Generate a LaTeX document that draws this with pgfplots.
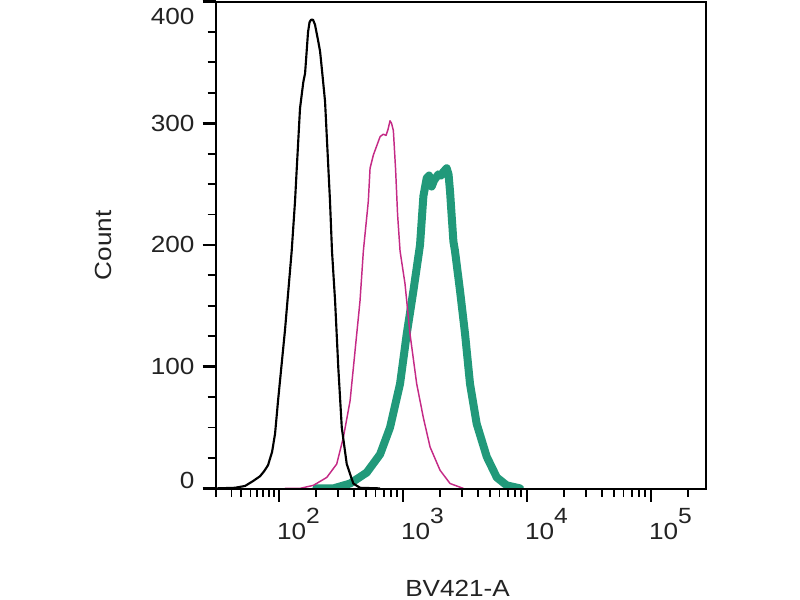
\documentclass[border=0pt]{standalone}
\usepackage{fontspec}
\setmainfont{Liberation Sans}[FakeStretch=1.12]
\usepackage{pgfplots}
\pgfplotsset{compat=1.18}
\definecolor{tealc}{RGB}{33,153,122}
\definecolor{pinkc}{RGB}{196,42,134}
\definecolor{txt}{RGB}{35,35,35}
\newcommand{\dec}[1]{10\raisebox{12pt}{\fontsize{16.5}{17}\selectfont #1}}
\newcommand{\lbl}{\fontsize{17.5}{21}\selectfont}
\begin{document}
\begin{tikzpicture}
\useasboundingbox (0,0) rectangle (600pt,450pt);
\begin{axis}[
  at={(161.8pt,83.25pt)}, anchor=south west,
  scale only axis, width=367.5pt, height=365.6pt,
  xmin=1.4895, xmax=5.441, ymin=-0.5, ymax=400,
  axis on top,
  axis line style={line width=1.5pt, black},
  tick align=outside, tick pos=left,
  xtick={2,3,4,5},
  xticklabels={\dec{2},\dec{3},\dec{4},\dec{5}},
  minor xtick={1.49,1.617,1.694,1.770,1.823,1.873,1.919,1.960,
    2.301,2.477,2.602,2.699,2.778,2.845,2.903,2.954,
    3.301,3.477,3.602,3.699,3.778,3.845,3.903,3.954,
    4.301,4.477,4.602,4.699,4.778,4.845,4.903,4.954,5.301},
  ytick={0,100,200,300,400},
  yticklabels={\raisebox{6pt}[\height][\depth]{0},100,200,300,\raisebox{-11.25pt}[\height][\depth]{400}},
  minor y tick num=3,
  major tick length=9.75pt, minor tick length=6pt,
  every major tick/.style={black, line width=2pt},
  every minor tick/.style={black, line width=1.4pt},
  ticklabel style={font=\lbl, text=txt, inner sep=0pt},
  xticklabel style={anchor=north west, xshift=-1.7pt, yshift=-4.5pt},
  yticklabel style={anchor=east, xshift=-6pt},
  xlabel={BV421-A}, ylabel={Count},
  xlabel style={at={(axis description cs:0.4935,-0.203)}, anchor=center, font=\lbl, text=txt, inner sep=0pt},
  ylabel style={at={(axis description cs:-0.23,0.5)}, anchor=center, font=\lbl, text=txt, inner sep=0pt},
]
\addplot[tealc, line width=6pt, line join=round, line cap=round] coordinates {
(2.3,0)(2.438,0)(2.573,4)(2.707,13)(2.815,28)(2.895,50)(2.976,86)(3.030,127)(3.083,162)
(3.137,200)(3.164,240)(3.191,255)(3.210,257)(3.231,248)(3.250,253)(3.285,258)(3.306,257)
(3.325,260)(3.352,263)(3.367,258)(3.379,244)(3.406,203)(3.419,195)(3.460,162)(3.500,127)
(3.540,86)(3.594,53)(3.675,26)(3.756,9)(3.836,2.5)(3.944,0)
};
\addplot[pinkc, line width=1.1pt, line join=round] coordinates {
(2.048,0)(2.169,0)(2.277,2.5)(2.385,9)(2.465,20)(2.519,42)(2.573,72)(2.613,113)(2.653,154)
(2.680,195)(2.720,236)(2.734,263)(2.761,274)(2.815,289)(2.841,291)(2.863,290)(2.879,295)
(2.895,302)(2.907,300)(2.922,294)(2.940,262)(2.956,225)(2.976,195)(3.016,168)(3.056,127)
(3.110,86)(3.164,58)(3.218,34)(3.298,15)(3.379,4)(3.486,0)
};
\addplot[black, line width=1.6pt, line join=round] coordinates {
(1.4895,0)(1.645,0.5)(1.726,2)(1.790,6)(1.847,10)(1.879,14)(1.911,19)(1.944,30)(1.968,45)
(1.992,72)(2.048,130)(2.102,195)(2.129,236)(2.143,263)(2.169,312)(2.196,334)(2.210,341)
(2.234,375)(2.246,383)(2.258,385)(2.274,385)(2.290,381)(2.315,368)(2.331,359)(2.347,343)
(2.371,318)(2.411,236)(2.427,195)(2.452,154)(2.478,99)(2.506,50)(2.546,20)(2.599,4)
(2.653,0.5)(2.815,0)
};
\end{axis}
\end{tikzpicture}
\end{document}
